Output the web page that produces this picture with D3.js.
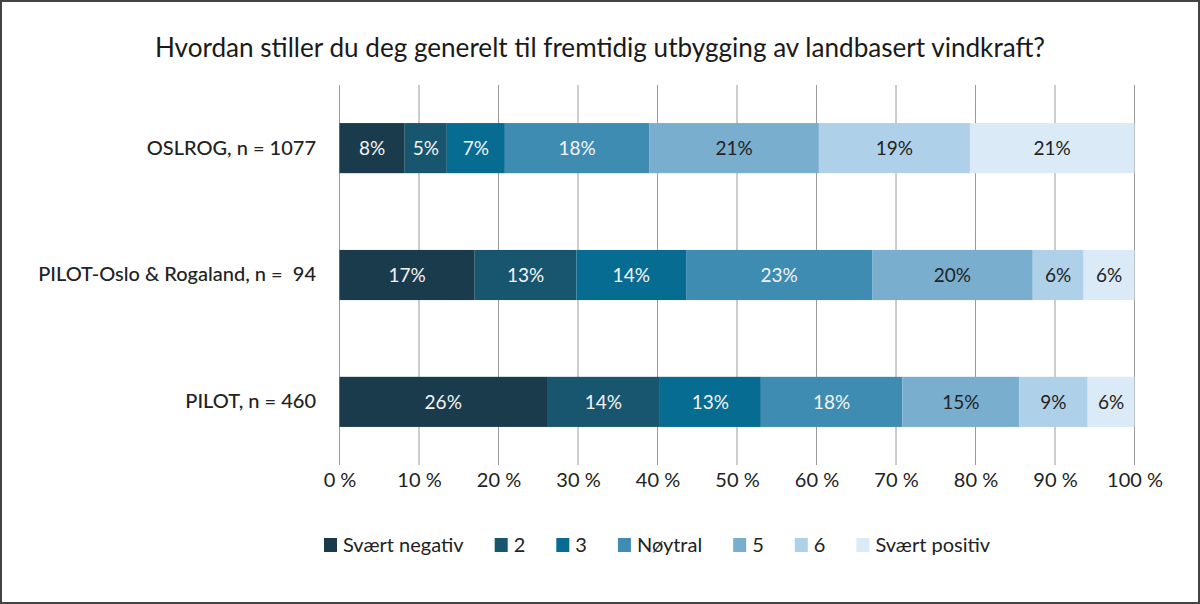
<!DOCTYPE html>
<html><head><meta charset="utf-8">
<script src="https://cdn.jsdelivr.net/npm/d3@7"></script>
<style>
html,body{margin:0;padding:0;background:#fff;}
svg{display:block;}
text{white-space:pre;}
</style></head>
<body>
<svg id="c" width="1200" height="604"></svg>
<script>
const title = "Hvordan stiller du deg generelt til fremtidig utbygging av landbasert vindkraft?";
const categories = ["OSLROG, n = 1077", "PILOT-Oslo & Rogaland, n =  94", "PILOT, n = 460"];
const seriesNames = ["Svært negativ", "2", "3", "Nøytral", "5", "6", "Svært positiv"];
const oslrog = [8.2, 5.3, 7.3, 18.2, 21.3, 19.0, 20.7];
const pilotOsloRogaland = [17.0, 12.8, 13.8, 23.4, 20.2, 6.4, 6.4];
const pilot = [26.1, 14.2, 12.7, 17.8, 14.7, 8.6, 5.9];
const tickValues = [0,10,20,30,40,50,60,70,80,90,100];
const colors = ["#1a3b4c", "#17566e", "#066c91", "#3f8cb3", "#79aecf", "#aed0e9", "#dbeaf7"];
const textColors = ["#f4f4f4","#f4f4f4","#f4f4f4","#f4f4f4","#222","#222","#222"];

const rows = [oslrog, pilotOsloRogaland, pilot];
const svg = d3.select("#c");
const font = "Lato, 'Open Sans', sans-serif";

// border
svg.append("rect").attr("x",1).attr("y",1).attr("width",1198).attr("height",602)
  .attr("fill","#fff").attr("stroke","#444").attr("stroke-width",2);

const x = d3.scaleLinear().domain([0,100]).range([339.5,1134.5]);
const y = d3.scaleBand().domain(categories).range([85,465]).paddingInner(0.605).paddingOuter(0.3);
const color = d3.scaleOrdinal().domain(seriesNames).range(colors);

// title
svg.append("text").attr("x",600).attr("y",57).attr("text-anchor","middle")
  .attr("font-family",font).attr("font-size",26).attr("fill","#1a1a1a")
  .attr("textLength",890).attr("lengthAdjust","spacingAndGlyphs").text(title);

// gridlines
svg.append("g").selectAll("line").data(tickValues).join("line")
  .attr("x1",d=>x(d)).attr("x2",d=>x(d)).attr("y1",85).attr("y2",465)
  .attr("stroke","#9a9a9a").attr("stroke-width",1);

// x axis labels
const xAxis = d3.axisBottom(x).tickValues(tickValues).tickSize(0).tickPadding(0).tickFormat(d=>d+" %");
const gx = svg.append("g").attr("transform","translate(0,473)").call(xAxis);
gx.select(".domain").remove();
gx.selectAll("text").attr("font-family",font).attr("font-size",20).attr("fill","#222").attr("dy","0.71em");

// y labels
const yAxis = d3.axisLeft(y).tickSize(0).tickPadding(0);
const gy = svg.append("g").attr("transform","translate(316,0)").call(yAxis);
gy.select(".domain").remove();
gy.selectAll("text").attr("font-family",font).attr("font-size",20).attr("font-weight",500).attr("fill","#222");

// bars
rows.forEach((vals,ri)=>{
  const cat = categories[ri];
  let cum = 0;
  const segs = vals.map((v,i)=>{const s={i,v,x0:cum,x1:cum+v}; cum+=v; return s;});
  const g = svg.append("g");
  g.selectAll("rect").data(segs).join("rect")
    .attr("x",d=>x(d.x0)).attr("width",d=>x(d.x1)-x(d.x0))
    .attr("y",y(cat)).attr("height",y.bandwidth())
    .attr("fill",d=>color(seriesNames[d.i]));
  g.selectAll("text").data(segs).join("text")
    .attr("x",d=>(x(d.x0)+x(d.x1))/2).attr("y",y(cat)+y.bandwidth()/2)
    .attr("dy","0.35em").attr("text-anchor","middle")
    .attr("font-family",font).attr("font-size",19)
    .attr("fill",d=>textColors[d.i]).text(d=>Math.round(d.v)+"%");
});

// legend
const leg = svg.append("g").attr("transform","translate(324,545)");
let lx = 0;
seriesNames.forEach((n,i)=>{
  const item = leg.append("g").attr("transform",`translate(${lx},0)`);
  item.append("rect").attr("x",0).attr("y",-7).attr("width",13).attr("height",14).attr("fill",colors[i]);
  const t = item.append("text").attr("x",19).attr("y",0).attr("dy","0.35em")
    .attr("font-family",font).attr("font-size",20).attr("fill","#222").text(n);
  lx += 19 + t.node().getComputedTextLength() + 31;
});
</script>
</body></html>
